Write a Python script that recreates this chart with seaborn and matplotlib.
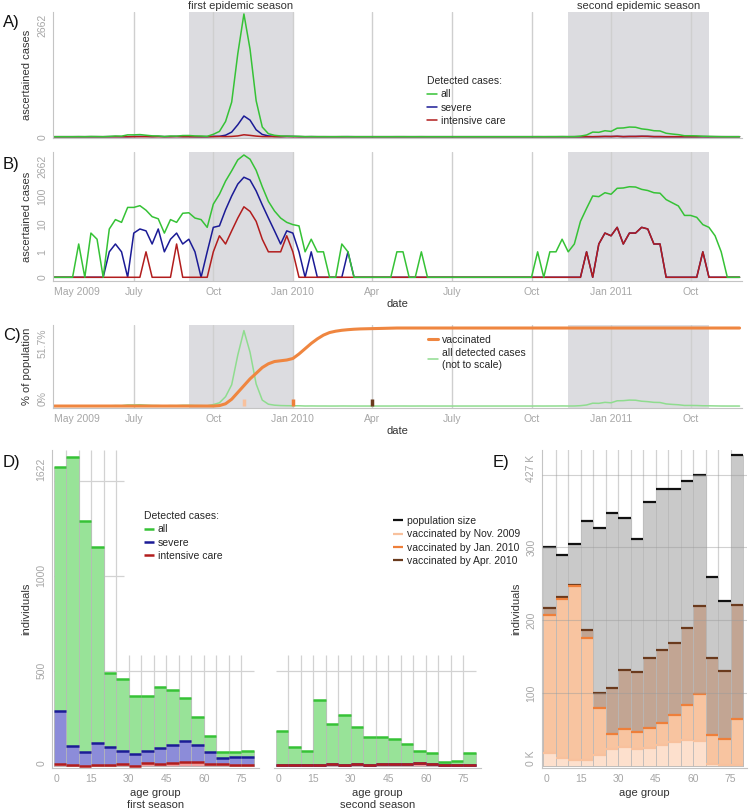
import numpy as np
import pandas as pd
import matplotlib.pyplot as plt
import seaborn as sns

# weekly detected cases, week 0 = first week of May 2009
cases_all = [0, 0, 0, 0, 2, 0, 5, 3, 0, 7,
             15, 12, 40, 40, 46, 32, 19, 16, 5, 15,
             12, 25, 26, 17, 15, 8, 52, 115, 330, 750,
             1800, 2662, 1900, 780, 210, 65, 30, 17, 12, 10,
             9, 1, 3, 1, 1, 0, 0, 2, 1, 0,
             0, 0, 0, 0, 0, 0, 1, 1, 0, 0,
             1, 0, 0, 0, 0, 0, 0, 0, 0, 0,
             0, 0, 0, 0, 0, 0, 0, 0, 0, 1,
             0, 1, 1, 3, 1, 2, 13, 37, 100, 95,
             130, 115, 185, 190, 210, 205, 170, 155, 130, 125,
             75, 58, 45, 21, 21, 18, 10, 8, 4, 1,
             0, 0, 0]
cases_severe = [0, 0, 0, 0, 0, 0, 0, 0, 0, 1,
                2, 1, 0, 5, 7, 6, 2, 7, 1, 3,
                5, 2, 3, 1, 0, 1, 8, 9, 33, 100,
                260, 449, 360, 150, 49, 17, 6, 2, 6, 5,
                1, 0, 1, 0, 0, 0, 0, 0, 1, 0,
                0, 0, 0, 0, 0, 0, 0, 0, 0, 0,
                0, 0, 0, 0, 0, 0, 0, 0, 0, 0,
                0, 0, 0, 0, 0, 0, 0, 0, 0, 0,
                0, 0, 0, 0, 0, 0, 0, 1, 0, 2,
                5, 4, 8, 2, 5, 5, 8, 7, 2, 2,
                0, 0, 0, 0, 0, 0, 1, 0, 0, 0,
                0, 0, 0]
cases_icu = [0, 0, 0, 0, 0, 0, 0, 0, 0, 0,
             0, 0, 0, 0, 0, 1, 0, 0, 0, 0,
             2, 0, 0, 0, 0, 0, 1, 4, 2, 6,
             17, 42, 29, 13, 3, 1, 1, 1, 4, 1,
             0, 0, 0, 0, 0, 0, 0, 0, 0, 0,
             0, 0, 0, 0, 0, 0, 0, 0, 0, 0,
             0, 0, 0, 0, 0, 0, 0, 0, 0, 0,
             0, 0, 0, 0, 0, 0, 0, 0, 0, 0,
             0, 0, 0, 0, 0, 0, 0, 1, 0, 2,
             5, 4, 8, 2, 5, 5, 8, 7, 2, 2,
             0, 0, 0, 0, 0, 0, 1, 0, 0, 0,
             0, 0, 0]
# cumulative vaccination coverage (% of population)
vaccinated = [0] * 27 + [0.3, 1.5, 4.5, 9, 13.5, 18, 21.7, 25.5, 28, 29.5,
                         30, 30.5, 31.5, 34.5, 38, 41.5, 44.5, 47, 48.7, 49.6,
                         50.2, 50.6, 50.9, 51.1, 51.2, 51.3, 51.4, 51.5, 51.6] + [51.7] * 57

date_ticks = [0, 13, 26, 39, 52, 65, 78, 91, 104]
date_labels = ["May 2009", "July", "Oct", "Jan 2010", "Apr", "July", "Oct", "Jan 2011", "Oct"]
seasons = [(22, 39), (84, 107)]
season_names = ["first epidemic season", "second epidemic season"]
vacc_marks = [31, 39, 52]

# age groups (lower bound of 5-year bands)
age_groups = [0, 5, 10, 15, 20, 25, 30, 35, 40, 45, 50, 55, 60, 65, 70, 75]
first_all = [1574, 1622, 1288, 1152, 490, 456, 367, 369, 414, 398, 358, 257, 154, 72, 73, 77]
first_severe = [290, 103, 72, 117, 100, 77, 63, 77, 93, 107, 131, 108, 72, 40, 45, 47]
first_icu = [7, 4, 1, 5, 5, 7, 1, 12, 10, 14, 19, 17, 9, 7, 5, 2]
second_all = [182, 98, 79, 344, 222, 266, 205, 152, 152, 142, 112, 79, 68, 17, 24, 65]
second_severe = [5, 5, 5, 5, 7, 6, 7, 5, 8, 10, 8, 12, 7, 5, 5, 5]
second_icu = [5, 5, 5, 5, 7, 6, 7, 5, 8, 10, 8, 12, 7, 5, 5, 5]

# population and vaccinated individuals (thousands)
pop_size = [300, 289, 305, 337, 327, 347, 341, 312, 362, 381, 381, 391, 400, 260, 226, 427]
vacc_apr = [217, 232, 249, 187, 100, 107, 131, 129, 148, 159, 168, 189, 220, 148, 130, 221]
vacc_jan = [207, 229, 247, 176, 79, 44, 50, 46, 52, 59, 69, 83, 98, 42, 36, 64]
vacc_nov = [18, 11, 8, 8, 14, 23, 26, 23, 24, 29, 33, 35, 34, 2, 0.5, 0.5]

GREEN, BLUE, RED = "#36c236", "#1b1b96", "#b21d1d"
TICK = "#a6a6a6"
LAB = "#333333"

sns.set_style("white")
plt.rcParams["font.family"] = ["Liberation Sans", "DejaVu Sans"]

W, H = 749, 810
fig = plt.figure(figsize=(W / 100, H / 100), dpi=100)


def box(l, t, r, b):
    return [l / W, 1 - b / H, (r - l) / W, (b - t) / H]


def style(ax):
    for s in ["top", "right"]:
        ax.spines[s].set_visible(False)
    for s in ["left", "bottom"]:
        ax.spines[s].set_color("#c4c4c4")
        ax.spines[s].set_linewidth(0.8)
    ax.tick_params(colors=TICK, labelsize=7.5, length=2, width=0.6, pad=2)


def rot_yticks(ax, ticks, labels, first_va="center"):
    ax.set_yticks(ticks)
    ax.set_yticklabels(labels)
    labs = ax.get_yticklabels()
    for lab in labs:
        lab.set_rotation(90)
        lab.set_va("center")
    labs[0].set_va(first_va)
    labs[-1].set_va("top")


def left_first_xlabel(ax):
    ax.get_xticklabels()[0].set_ha("left")


weeks = np.arange(len(cases_all))
lines = pd.DataFrame({"week": weeks, "all": cases_all, "severe": cases_severe,
                      "intensive care": cases_icu, "vaccinated": vaccinated})

leg_kw = dict(frameon=False, fontsize=7.5, title_fontsize=7.5, handlelength=1.0, handletextpad=0.3,
              labelspacing=0.32, borderpad=0, borderaxespad=0, alignment="left")


def date_axis(ax):
    for a, b in seasons:
        ax.axvspan(a, b, color="#dcdce0", lw=0, zorder=0)
    for t in date_ticks[1:]:
        ax.axvline(t, color="#cfcfcf", lw=1, zorder=0.5)
    ax.set_xlim(-0.2, 112.4)
    ax.set_xticks(date_ticks)


def case_lines(ax):
    sns.lineplot(data=lines, x="week", y="severe", color=BLUE, lw=1.1, ax=ax, label="severe")
    sns.lineplot(data=lines, x="week", y="intensive care", color=RED, lw=1.1, ax=ax, label="intensive care")
    sns.lineplot(data=lines, x="week", y="all", color=GREEN, lw=1.1, ax=ax, label="all")


# ---- A) linear scale
axA = fig.add_axes(box(53, 12, 742, 138))
style(axA)
date_axis(axA)
case_lines(axA)
axA.set_ylim(-28, 2705)
rot_yticks(axA, [0, 2662], ["0", "2662"])
axA.set_xticklabels([])
axA.tick_params(axis="x", length=0)
axA.set_xlabel("")
axA.set_ylabel("ascertained cases", fontsize=8, color=LAB, labelpad=4)
h, l = axA.get_legend_handles_labels()
order = [2, 0, 1]
axA.legend([h[i] for i in order], [l[i] for i in order], title="Detected cases:",
           loc="upper left", bbox_to_anchor=(427 / W, 1 - 76 / H), bbox_transform=fig.transFigure,
           **leg_kw)
for i, name in enumerate(season_names):
    fig.text((54.4 + 6.12 * sum(seasons[i]) / 2) / W, 1 - 6 / H, name, ha="center", va="center",
             fontsize=8, color=LAB)

# ---- B) log scale
axB = fig.add_axes(box(53, 152, 742, 281))
style(axB)
axB.set_yscale("function", functions=(lambda y: np.log10(np.clip(y + 0.15, 1e-3, None)),
                                      lambda t: 10 ** t - 0.15))
date_axis(axB)
case_lines(axB)
axB.get_legend().remove()
axB.set_ylim(-0.0386, 3381)
rot_yticks(axB, [0, 1, 10, 100, 2662], ["0", "1", "10", "100", "2662"])
axB.set_xticklabels(date_labels)
left_first_xlabel(axB)
axB.set_xlabel("date", fontsize=8, color=LAB, labelpad=2)
axB.set_ylabel("ascertained cases", fontsize=8, color=LAB, labelpad=4)

# ---- C) vaccination coverage
axC = fig.add_axes(box(53, 325, 742, 408))
style(axC)
date_axis(axC)
lines["scaled"] = lines["all"] / lines["all"].max() * 50
sns.lineplot(data=lines, x="week", y="scaled", color="#8fdc8f", lw=1.1, ax=axC,
             label="all detected cases\n(not to scale)")
sns.lineplot(data=lines, x="week", y="vaccinated", color="#ef8640", lw=2.2, ax=axC, label="vaccinated")
axC.vlines(vacc_marks, 0, 4.5, colors=["#f8c19d", "#ee7f3a", "#6a3a1d"], lw=2.5, zorder=5)
axC.set_ylim(-1.3, 53.7)
rot_yticks(axC, [0, 51.7], ["0%", "51.7%"], first_va="bottom")
axC.set_xticklabels(date_labels)
left_first_xlabel(axC)
axC.set_xlabel("date", fontsize=8, color=LAB, labelpad=2)
axC.set_ylabel("% of population", fontsize=8, color=LAB, labelpad=4)
h, l = axC.get_legend_handles_labels()
axC.legend(h[::-1], l[::-1], loc="upper left", bbox_to_anchor=(428 / W, 1 - 335 / H),
           bbox_transform=fig.transFigure, **leg_kw)

# ---- D) detected cases by age group
age_edges = [float(a) for a in age_groups] + [80.0]


def age_bars(ax, values, fill, top, lw=1.8, label=None):
    df = pd.DataFrame({"age": [a + 2.5 for a in age_groups], "n": values})
    sns.histplot(data=df, x="age", weights="n", bins=age_edges, color=fill, alpha=1,
                 edgecolor="#b8b8b8", linewidth=0.5, ax=ax, zorder=2)
    ax.hlines(values, age_edges[:-1], age_edges[1:], colors=top, linewidth=lw, zorder=3, label=label)


def age_axis(ax, season=None):
    style(ax)
    ax.set_xlim(-0.6, 82)
    ax.set_xticks([0, 15, 30, 45, 60, 75])
    ax.set_xticklabels(["0", "15", "30", "45", "60", "75"])
    left_first_xlabel(ax)
    lab = "age group" if season is None else "age group\n" + season
    ax.set_xlabel(lab, fontsize=8, color=LAB, labelpad=3, linespacing=1.25)


axD1 = fig.add_axes(box(52, 450, 259, 768))
axD1.vlines(age_edges[1:6], 0, 1661, color="#d2d2d2", lw=0.9, zorder=0)
axD1.vlines(age_edges[6:16], 0, 580, color="#d2d2d2", lw=0.9, zorder=0)
axD1.hlines([1000, 1500], 0, 28, color="#d2d2d2", lw=0.9, zorder=0)
axD1.hlines(500, 0, 80, color="#d2d2d2", lw=0.9, zorder=0)
age_bars(axD1, first_all, "#98e398", GREEN, label="all")
age_bars(axD1, first_severe, "#8c8cd9", BLUE, label="severe")
age_bars(axD1, first_icu, "#f29b9b", RED, label="intensive care")
age_axis(axD1, "first season")
axD1.set_ylim(-12, 1661)
rot_yticks(axD1, [0, 500, 1000, 1622], ["0", "500", "1000", "1622"], first_va="bottom")
axD1.set_ylabel("individuals", fontsize=8, color=LAB, labelpad=4)
axD1.legend(title="Detected cases:", loc="upper left", bbox_to_anchor=(144 / W, 1 - 511 / H),
            bbox_transform=fig.transFigure, **leg_kw)

axD2 = fig.add_axes(box(274, 450, 481, 768))
axD2.vlines(age_edges[1:16], 0, 580, color="#d2d2d2", lw=0.9, zorder=0)
axD2.hlines(500, 0, 80, color="#d2d2d2", lw=0.9, zorder=0)
age_bars(axD2, second_all, "#98e398", GREEN)
age_bars(axD2, second_severe, "#8c8cd9", BLUE)
age_bars(axD2, second_icu, "#f29b9b", RED)
age_axis(axD2, "second season")
axD2.set_ylim(-12, 1661)
axD2.spines["left"].set_visible(False)
axD2.set_yticks([])
axD2.set_ylabel("")

# ---- E) population and vaccination by age group
axE = fig.add_axes(box(542, 450, 747, 768))
axE.vlines(age_edges[1:16], 0, 440, color="#d2d2d2", lw=0.9, zorder=0)
age_bars(axE, pop_size, "#c9c9c9", "#111111", lw=1.6, label="population size")
age_bars(axE, vacc_apr, "#c2a593", "#6a3a1d", lw=1.6, label="vaccinated by Apr. 2010")
age_bars(axE, vacc_jan, "#f8c4a0", "#ee7f3a", lw=1.6, label="vaccinated by Jan. 2010")
age_bars(axE, vacc_nov, "#fde0cd", "#f8c19d", lw=1.6, label="vaccinated by Nov. 2009")
axE.hlines([100, 200, 300, 400], -0.6, 82, color="#9a9a9a", lw=0.8, alpha=0.45, zorder=4)
age_axis(axE)
axE.set_xlim(-0.6, 81.6)
axE.set_ylim(-3.2, 434)
rot_yticks(axE, [0, 100, 200, 300, 427], ["0 K", "100", "200", "300", "427 K"], first_va="bottom")
axE.set_ylabel("individuals", fontsize=8, color=LAB, labelpad=4)
h, l = axE.get_legend_handles_labels()
order = [0, 3, 2, 1]
axE.legend([h[i] for i in order], [l[i] for i in order], loc="upper left",
           bbox_to_anchor=(393 / W, 1 - 516 / H), bbox_transform=fig.transFigure, **leg_kw)

for txt, x, y in [("A)", 3, 23), ("B)", 3, 164), ("C)", 3, 335), ("D)", 3, 462), ("E)", 493, 462)]:
    fig.text(x / W, 1 - y / H, txt, fontsize=12, va="center", ha="left", color="#111111")

fig.savefig("out.png", dpi=100)
